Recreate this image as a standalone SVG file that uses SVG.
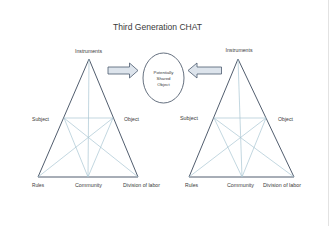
<svg xmlns="http://www.w3.org/2000/svg" width="330" height="226" viewBox="0 0 330 226">
<defs>
<style>
.t{font-family:"Liberation Sans",Arial,sans-serif;fill:#3a3a3a;}
.lab{font-size:5.2px;}
.tri{fill:none;stroke:#3d4b5e;stroke-width:0.9;}
.in{fill:none;stroke:#a9c5d3;stroke-width:0.7;}
.arr{fill:#dde4ec;stroke:#4b5a6e;stroke-width:0.8;}
</style>
<linearGradient id="g" x1="0" y1="0" x2="0" y2="1">
<stop offset="0" stop-color="#eef2f6"/>
<stop offset="1" stop-color="#c9d4df"/>
</linearGradient>
</defs>
<rect width="330" height="226" fill="#ffffff"/>
<line x1="328.5" y1="0" x2="328.5" y2="226" stroke="#e2e2e2" stroke-width="1"/>
<text class="t" x="157.5" y="30" font-size="9.5" text-anchor="middle" textLength="89" lengthAdjust="spacingAndGlyphs">Third Generation CHAT</text>

<g id="connectors">
<polygon class="arr" fill="url(#g)" points="108,67 129.5,67 129.5,63 138,70.5 129.5,78 129.5,74 108,74"/>
<polygon class="arr" fill="url(#g)" points="221.5,67 197,67 197,63 188,70.5 197,78 197,74 221.5,74"/>
</g>

<g id="shared-object">
<ellipse cx="163.5" cy="78" rx="20.5" ry="25" fill="#ffffff" stroke="#3d4b5e" stroke-width="0.8"/>
<text class="t" font-size="4.3" text-anchor="middle"><tspan x="163.5" y="73.5">Potentially</tspan><tspan x="163.5" y="79.5">Shared</tspan><tspan x="163.5" y="85.5">Object</tspan></text>
</g>

<g id="left-triangle">
<polygon class="tri" points="89,59 38,177 138,177"/>
<line class="in" x1="64" y1="118" x2="113" y2="118"/>
<line class="in" x1="89" y1="59" x2="88" y2="177"/>
<line class="in" x1="64" y1="118" x2="88" y2="177"/>
<line class="in" x1="113" y1="118" x2="88" y2="177"/>
<line class="in" x1="64" y1="118" x2="138" y2="177"/>
<line class="in" x1="113" y1="118" x2="38" y2="177"/>
<text class="t lab" x="88.5" y="52.5" text-anchor="middle" textLength="27" lengthAdjust="spacingAndGlyphs">Instruments</text>
<text class="t lab" x="32" y="120.5" textLength="17" lengthAdjust="spacingAndGlyphs">Subject</text>
<text class="t lab" x="124" y="120.5" textLength="15" lengthAdjust="spacingAndGlyphs">Object</text>
<text class="t lab" x="32" y="186.5" textLength="12" lengthAdjust="spacingAndGlyphs">Rules</text>
<text class="t lab" x="75" y="186.5" textLength="27" lengthAdjust="spacingAndGlyphs">Community</text>
<text class="t lab" x="123" y="186.5" textLength="37" lengthAdjust="spacingAndGlyphs">Division of labor</text>
</g>

<g id="right-triangle">
<polygon class="tri" points="238,59 189,177 294,177"/>
<line class="in" x1="214" y1="118" x2="266" y2="118"/>
<line class="in" x1="238" y1="59" x2="242" y2="177"/>
<line class="in" x1="214" y1="118" x2="242" y2="177"/>
<line class="in" x1="266" y1="118" x2="242" y2="177"/>
<line class="in" x1="214" y1="118" x2="294" y2="177"/>
<line class="in" x1="266" y1="118" x2="189" y2="177"/>
<text class="t lab" x="239" y="51.5" text-anchor="middle" textLength="27" lengthAdjust="spacingAndGlyphs">Instruments</text>
<text class="t lab" x="180" y="119.5" textLength="18" lengthAdjust="spacingAndGlyphs">Subject</text>
<text class="t lab" x="278" y="120.5" textLength="15" lengthAdjust="spacingAndGlyphs">Object</text>
<text class="t lab" x="185" y="186.5" textLength="13" lengthAdjust="spacingAndGlyphs">Rules</text>
<text class="t lab" x="227" y="186.5" textLength="27" lengthAdjust="spacingAndGlyphs">Community</text>
<text class="t lab" x="263" y="186.5" textLength="38" lengthAdjust="spacingAndGlyphs">Division of labor</text>
</g>
</svg>
